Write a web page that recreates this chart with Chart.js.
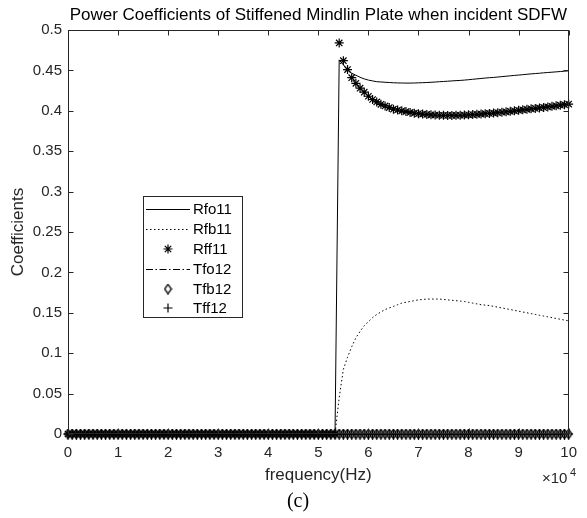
<!DOCTYPE html>
<html>
<head>
<meta charset="utf-8">
<script src="https://cdn.jsdelivr.net/npm/chart.js@4.4.1/dist/chart.umd.min.js"></script>
<style>
html,body{margin:0;padding:0;background:#fff;}
#wrap{width:587px;height:518px;}
</style>
</head>
<body>
<div id="wrap"><canvas id="c" width="587" height="518"></canvas></div>
<script>
// ---------------- data ----------------
const freq = [
0,833,1667,2500,3333,4167,5000,5833,6667,7500,8333,9167,
10000,10833,11667,12500,13333,14167,15000,15833,16667,17500,18333,19167,
20000,20833,21667,22500,23333,24167,25000,25833,26667,27500,28333,29167,
30000,30833,31667,32500,33333,34167,35000,35833,36667,37500,38333,39167,
40000,40833,41667,42500,43333,44167,45000,45833,46667,47500,48333,49167,
50000,50833,51667,52500,53333,54167,55000,55833,56667,57500,58333,59167,
60000,60833,61667,62500,63333,64167,65000,65833,66667,67500,68333,69167,
70000,70833,71667,72500,73333,74167,75000,75833,76667,77500,78333,79167,
80000,80833,81667,82500,83333,84167,85000,85833,86667,87500,88333,89167,
90000,90833,91667,92500,93333,94167,95000,95833,96667,97500,98333,99167,
100000];

// reflected coefficients below the cut-on frequency (indices 0..63)
const rBelowCutOn = [
0,0,0,0,0,0,0,0,0,0,0,0,0,0,0,0,
0,0,0,0,0,0,0,0,0,0,0,0,0,0,0,0,
0,0,0,0,0,0,0,0,0,0,0,0,0,0,0,0,
0,0,0,0,0,0,0,0,0,0,0,0,0,0,0,0];

// from 53333 Hz onwards (indices 64..120)
const rfo11Above = [0,0.463,0.457,0.451,0.4465,0.444,0.4415,0.4395,0.438,
0.437,0.436,0.4357,0.4353,0.435,0.4347,0.4345,0.4344,0.4343,0.4343,0.4344,0.4346,
0.4348,0.435,0.4353,0.4356,0.436,0.4363,0.4366,0.437,0.4373,0.4376,0.438,0.4385,
0.439,0.4395,0.44,0.4405,0.441,0.4413,0.4418,0.4423,0.4428,0.4433,0.4438,0.4442,
0.4447,0.4452,0.4457,0.4461,0.4465,0.447,0.4474,0.4478,0.4482,0.4486,0.449,0.4495];

const rfb11Above = [0,0.045,0.080,0.095,0.108,0.119,0.127,0.134,0.139,
0.144,0.148,0.151,0.154,0.156,0.158,0.160,0.162,0.163,0.164,0.165,0.166,
0.1665,0.167,0.167,0.167,0.167,0.1665,0.166,0.1655,0.165,0.1645,0.164,0.163,
0.162,0.161,0.160,0.1595,0.159,0.158,0.157,0.156,0.155,0.154,0.153,0.152,
0.151,0.150,0.149,0.148,0.147,0.146,0.145,0.144,0.143,0.142,0.141,0.140];

const rff11Above = [0,0.484,0.462,0.451,0.441,0.434,0.428,0.423,0.418,
0.414,0.411,0.408,0.406,0.404,0.402,0.401,0.400,0.399,0.398,0.397,0.3965,
0.396,0.3955,0.395,0.3948,0.3945,0.3944,0.3943,0.3943,0.3944,0.3945,0.3947,0.395,
0.3953,0.3957,0.396,0.3964,0.3968,0.3972,0.3977,0.3982,0.3988,0.3994,0.4,0.4006,
0.4012,0.4018,0.4024,0.403,0.4036,0.4042,0.4048,0.4055,0.4062,0.4069,0.4076,0.4083];

// transmitted coefficients: zero over the whole band
const tfo12 = [
0,0,0,0,0,0,0,0,0,0,0,0,0,0,0,0,0,0,0,0,0,0,0,0,0,0,0,0,0,0,0,0,0,0,0,0,0,0,0,0,
0,0,0,0,0,0,0,0,0,0,0,0,0,0,0,0,0,0,0,0,0,0,0,0,0,0,0,0,0,0,0,0,0,0,0,0,0,0,0,0,
0,0,0,0,0,0,0,0,0,0,0,0,0,0,0,0,0,0,0,0,0,0,0,0,0,0,0,0,0,0,0,0,0,0,0,0,0,0,0,0,0];
const tfb12 = tfo12.slice();
const tff12 = tfo12.slice();

const rfo11 = rBelowCutOn.concat(rfo11Above);
const rfb11 = rBelowCutOn.concat(rfb11Above);
const rff11 = rBelowCutOn.concat(rff11Above);

const xTickValues = [0,10000,20000,30000,40000,50000,60000,70000,80000,90000,100000];
const xTickLabels = ['0','1','2','3','4','5','6','7','8','9','10'];
const yTickValues = [0,0.05,0.1,0.15,0.2,0.25,0.3,0.35,0.4,0.45,0.5];
const yTickLabels = ['0','0.05','0.1','0.15','0.2','0.25','0.3','0.35','0.4','0.45','0.5'];

const seriesNames = ['Rfo11','Rfb11','Rff11','Tfo12','Tfb12','Tff12'];
const titleText = 'Power Coefficients of Stiffened Mindlin Plate when incident SDFW';

// ---------------- styling ----------------
const SANS = '"Liberation Sans", Arial, Helvetica, sans-serif';
const AX = '#262626';
const pts = ys => ys.map((v,i)=>({x:freq[i], y:v}));

function diamondImage(){
  const cv = document.createElement('canvas');
  cv.width = 9; cv.height = 11;
  const g = cv.getContext('2d');
  g.strokeStyle = '#000'; g.lineWidth = 1.3;
  g.beginPath();
  g.moveTo(4.5,0.8); g.lineTo(7.9,5.5); g.lineTo(4.5,10.2); g.lineTo(1.1,5.5); g.closePath();
  g.stroke();
  return cv;
}
const diamond = diamondImage();

const decor = {
  id:'decor',
  afterDraw(chart){
    const {ctx, chartArea:a, scales:{x,y}} = chart;
    ctx.save();
    ctx.strokeStyle = AX; ctx.lineWidth = 1;
    const L = Math.round(a.left)+0.5, R = Math.round(a.right)-0.5,
          T = Math.round(a.top)+0.5, B = Math.round(a.bottom)-0.5;
    ctx.strokeRect(L, T, R-L, B-T);
    ctx.beginPath();
    xTickValues.forEach(v=>{
      const px = Math.round(x.getPixelForValue(v))+0.5;
      ctx.moveTo(px,B); ctx.lineTo(px,B-5);
      ctx.moveTo(px,T); ctx.lineTo(px,T+5);
    });
    yTickValues.forEach(v=>{
      const py = Math.round(y.getPixelForValue(v))+0.5;
      ctx.moveTo(L,py); ctx.lineTo(L+5,py);
      ctx.moveTo(R,py); ctx.lineTo(R-5,py);
    });
    ctx.stroke();

    // title
    ctx.fillStyle = '#000';
    ctx.textAlign = 'center'; ctx.textBaseline = 'middle';
    ctx.font = '17px ' + SANS;
    ctx.fillText(titleText, (a.left+a.right)/2, 15);
    // axis titles
    ctx.fillStyle = AX;
    ctx.font = '17px ' + SANS;
    ctx.fillText('frequency(Hz)', (a.left+a.right)/2, 475);
    ctx.save();
    ctx.translate(18, (a.top+a.bottom)/2);
    ctx.rotate(-Math.PI/2);
    ctx.fillText('Coefficients', 0, 0);
    ctx.restore();
    // exponent
    ctx.font = '15px ' + SANS;
    ctx.textAlign = 'left';
    ctx.fillText('\u00d710', 542, 479);
    ctx.font = '11px ' + SANS;
    ctx.fillText('4', 570, 473);
    // caption
    ctx.fillStyle = '#000';
    ctx.textAlign = 'center';
    ctx.font = '20px "Liberation Serif", "Times New Roman", serif';
    ctx.fillText('(c)', 298, 502);

    // legend
    const bx = 143.5, by = 196.5, bw = 99, bh = 121;
    ctx.fillStyle = '#fff';
    ctx.fillRect(bx, by, bw, bh);
    ctx.strokeStyle = AX;
    ctx.strokeRect(bx, by, bw, bh);
    const rows = [209, 229, 249, 269, 289, 308];
    const x0 = 146, x1 = 190, xm = 168;
    ctx.strokeStyle = '#000';
    ctx.fillStyle = '#000';
    ctx.lineWidth = 1;
    const sample = (i, dash) => {
      ctx.beginPath(); ctx.setLineDash(dash);
      ctx.moveTo(x0, rows[i]+0.5); ctx.lineTo(x1, rows[i]+0.5); ctx.stroke();
      ctx.setLineDash([]);
    };
    sample(0, []);
    sample(1, [1.5,2.5]);
    sample(3, [7,2.5,1.5,2.5]);
    // asterisk
    ctx.lineWidth = 1.2;
    ctx.beginPath();
    const r = 4.5, s = r*Math.SQRT1_2;
    ctx.moveTo(xm-r, rows[2]); ctx.lineTo(xm+r, rows[2]);
    ctx.moveTo(xm, rows[2]-r); ctx.lineTo(xm, rows[2]+r);
    ctx.moveTo(xm-s, rows[2]-s); ctx.lineTo(xm+s, rows[2]+s);
    ctx.moveTo(xm-s, rows[2]+s); ctx.lineTo(xm+s, rows[2]-s);
    ctx.stroke();
    // diamond
    ctx.drawImage(diamond, xm-4.5, rows[4]-5.5);
    // plus
    ctx.beginPath();
    ctx.moveTo(xm-4.5, rows[5]); ctx.lineTo(xm+4.5, rows[5]);
    ctx.moveTo(xm, rows[5]-4.5); ctx.lineTo(xm, rows[5]+4.5);
    ctx.stroke();
    ctx.font = '15px ' + SANS;
    ctx.textAlign = 'left'; ctx.textBaseline = 'middle';
    ctx.fillStyle = '#000';
    seriesNames.forEach((n,i)=>ctx.fillText(n, 193, rows[i]+1));
    ctx.restore();
  }
};

const tickFont = {family: SANS, size: 15};

new Chart(document.getElementById('c'), {
  type: 'line',
  data: {
    datasets: [
      {label: seriesNames[0], data: pts(rfo11), borderColor:'#000', borderWidth:1, pointRadius:0, tension:0},
      {label: seriesNames[1], data: pts(rfb11), borderColor:'#000', borderWidth:1, borderDash:[1.5,2.5], pointRadius:0},
      {label: seriesNames[2], data: pts(rff11), showLine:false, pointStyle:'star', pointRadius:4.5, borderColor:'#000', borderWidth:1.2, clip:false},
      {label: seriesNames[3], data: pts(tfo12), borderColor:'#000', borderWidth:1, borderDash:[7,2.5,1.5,2.5], pointRadius:0, clip:false},
      {label: seriesNames[4], data: pts(tfb12), showLine:false, pointStyle:diamond, pointRadius:4, clip:false},
      {label: seriesNames[5], data: pts(tff12), showLine:false, pointStyle:'cross', pointRadius:4.5, borderColor:'#000', borderWidth:1.2, clip:false}
    ]
  },
  options: {
    responsive:false, animation:false,
    layout:{padding:{top:30, right:9, left:0, bottom:0}},
    scales:{
      x:{type:'linear', min:0, max:100000,
         afterBuildTicks(s){ s.ticks = xTickValues.map(v=>({value:v})); },
         afterFit(s){ s.height = 84; },
         grid:{display:false, drawTicks:false}, border:{display:false},
         ticks:{font:tickFont, color:AX, padding:10, maxRotation:0, autoSkip:false,
                callback:(v)=>xTickLabels[xTickValues.indexOf(v)]}},
      y:{type:'linear', min:0, max:0.5,
         afterBuildTicks(s){ s.ticks = yTickValues.map(v=>({value:v})); },
         afterFit(s){ s.width = 68; },
         grid:{display:false, drawTicks:false}, border:{display:false},
         ticks:{font:tickFont, color:AX, padding:6, autoSkip:false,
                callback:(v)=>yTickLabels[yTickValues.indexOf(v)]}}
    },
    plugins:{legend:{display:false}, tooltip:{enabled:false}, title:{display:false}}
  },
  plugins:[decor]
});
</script>
</body>
</html>
